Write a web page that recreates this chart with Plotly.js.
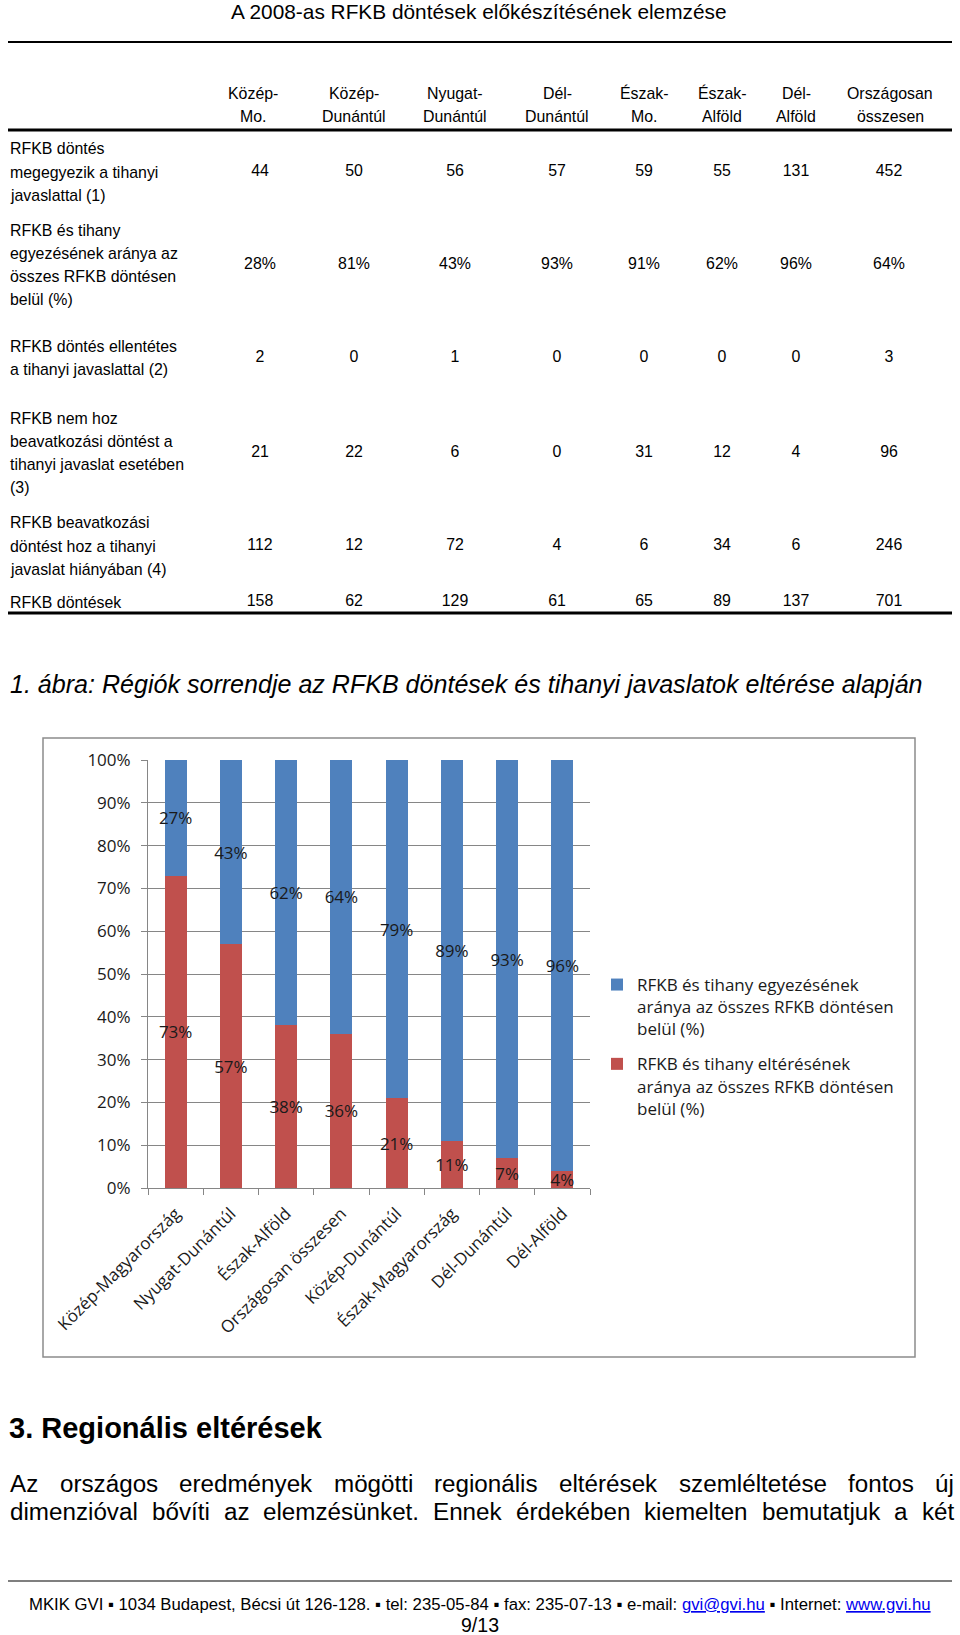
<!DOCTYPE html>
<html><head><meta charset="utf-8">
<script src="https://cdn.plot.ly/plotly-3.0.1.min.js"></script>
<style>html,body{margin:0;padding:0;background:#fff}#chart{width:960px;height:1635px}</style>
</head><body><div id="chart"></div>
<script>
// ---------------- DATA ----------------
const pageHeader = 'A 2008-as RFKB döntések előkészítésének elemzése';
const tableColumns = ['Közép-<br>Mo.', 'Közép-<br>Dunántúl', 'Nyugat-<br>Dunántúl', 'Dél-<br>Dunántúl',
                      'Észak-<br>Mo.', 'Észak-<br>Alföld', 'Dél-<br>Alföld', 'Országosan<br>összesen'];
const rowLabels = [
  'RFKB döntés<br>megegyezik a tihanyi<br>javaslattal (1)',
  'RFKB és tihany<br>egyezésének aránya az<br>összes RFKB döntésen<br>belül (%)',
  'RFKB döntés ellentétes<br>a tihanyi javaslattal (2)',
  'RFKB nem hoz<br>beavatkozási döntést a<br>tihanyi javaslat esetében<br>(3)',
  'RFKB beavatkozási<br>döntést hoz a tihanyi<br>javaslat hiányában (4)',
  'RFKB döntések'
];
const rowMegegyezik   = [44, 50, 56, 57, 59, 55, 131, 452];
const rowEgyezesArany = ['28%', '81%', '43%', '93%', '91%', '62%', '96%', '64%'];
const rowEllentetes   = [2, 0, 1, 0, 0, 0, 0, 3];
const rowNemHoz       = [21, 22, 6, 0, 31, 12, 4, 96];
const rowBeavatkozasi = [112, 12, 72, 4, 6, 34, 6, 246];
const rowDontesek     = [158, 62, 129, 61, 65, 89, 137, 701];

const captionText = '1. ábra: Régiók sorrendje az RFKB döntések és tihanyi javaslatok eltérése alapján';

const chartCategories = ['Közép-Magyarország', 'Nyugat-Dunántúl', 'Észak-Alföld', 'Országosan összesen',
                         'Közép-Dunántúl', 'Észak-Magyarország', 'Dél-Dunántúl', 'Dél-Alföld'];
const agreementPct  = [27, 43, 62, 64, 79, 89, 93, 96];
const differencePct = [73, 57, 38, 36, 21, 11, 7, 4];
const yTickValues = [0, 10, 20, 30, 40, 50, 60, 70, 80, 90, 100];
const legendAgreement  = 'RFKB és tihany egyezésének<br>aránya az összes RFKB döntésen<br>belül (%)';
const legendDifference = 'RFKB és tihany eltérésének<br>aránya az összes RFKB döntésen<br>belül (%)';

const headingText = '3. Regionális eltérések';
const bodyLines = [
  'Az országos eredmények mögötti regionális eltérések szemléltetése fontos új',
  'dimenzióval bővíti az elemzésünket. Ennek érdekében kiemelten bemutatjuk a két'
];
const footerParts = ['MKIK GVI ▪ 1034 Budapest, Bécsi út 126-128. ▪ tel: 235-05-84 ▪ fax: 235-07-13 ▪ e-mail: ',
                     'gvi@gvi.hu', ' ▪ Internet: ', 'www.gvi.hu'];
const pageNumber = '9/13';

// ---------------- LAYOUT HELPERS ----------------
const W = 960, H = 1635;
const px = x => x / W;
const py = y => 1 - y / H;
const ctx = document.createElement('canvas').getContext('2d');
function fontAvailable(name) {
  const s = 'mmmmmmmmmmlliWWQ0123456789abcxyz';
  ctx.font = '72px monospace'; const a = ctx.measureText(s).width;
  ctx.font = '72px "' + name + '", monospace'; const b = ctx.measureText(s).width;
  ctx.font = '72px serif'; const c = ctx.measureText(s).width;
  ctx.font = '72px "' + name + '", serif'; const d = ctx.measureText(s).width;
  return a !== b || c !== d;
}
const narrow = fontAvailable('Liberation Sans Narrow');
const DOC_NAME = narrow ? 'Liberation Sans Narrow' : 'Liberation Sans';
const DOC = '"' + DOC_NAME + '", "Liberation Sans", Arial, sans-serif';
const K = narrow ? 1 : 0.82;
const PT = 1.94 * K;
const CH = '"Open Sans", "Noto Sans", sans-serif';

function measure(text, size, style) {
  ctx.font = (style || '') + ' ' + size + 'px "' + DOC_NAME + '"';
  return ctx.measureText(text).width;
}
function fit(text, width, style) { return 100 * width / measure(text, 100, style); }

const annotations = [];
function ann(text, x, y, size, opts) {
  annotations.push(Object.assign({
    text: text, x: px(x), y: py(y), xref: 'paper', yref: 'paper', showarrow: false,
    xanchor: 'center', yanchor: 'middle', font: {family: DOC, size: size, color: '#000'}
  }, opts || {}));
}

// page header
ann(pageHeader, 479, 11, fit(pageHeader, 497));

// table header
const headX = [253, 354, 455, 557, 644, 722, 796, 890];
const valX  = [260, 354, 455, 557, 644, 722, 796, 889];
const tSize = 10 * PT;
tableColumns.forEach((c, j) => {
  c.split('<br>').forEach((line, k) => ann(line, headX[j], 93 + 23.3 * k, tSize));
});
// row labels (left aligned, each line separately for line spacing)
const rowY = [172, 265, 358, 453, 546, 602];
rowLabels.forEach((lab, i) => {
  const lines = lab.split('<br>');
  lines.forEach((line, k) => ann(line, 8, rowY[i] + 23.3 * (k - (lines.length - 1) / 2), tSize, {xanchor: 'left'}));
});
// table cell values through a text scatter on pixel-space axes
const tableRows = [rowMegegyezik, rowEgyezesArany, rowEllentetes, rowNemHoz, rowBeavatkozasi, rowDontesek];
const cellX = [], cellY = [], cellT = [];
tableRows.forEach((row, i) => row.forEach((v, j) => { cellX.push(valX[j]); cellY.push(rowY[i]); cellT.push(String(v)); }));

// caption
const cs = fit(captionText, 913, 'italic');
ann(captionText, 8, 684, cs, {xanchor: 'left', font: {family: DOC, size: cs, color: '#000', style: 'italic'}});

// heading
const hs = fit(headingText, 313, 'bold');
ann('<b>' + headingText + '</b>', 7, 1428, hs, {xanchor: 'left'});

// justified body text
const bodyWords0 = bodyLines[0].split(' ');
const bs = 100 * 774 / bodyWords0.reduce((a, w) => a + measure(w, 100), 0);
bodyLines.forEach((line, li) => {
  const words = line.split(' ');
  const widths = words.map(w => measure(w, bs));
  const total = widths.reduce((a, b) => a + b, 0);
  const gap = (944 - total) / (words.length - 1);
  let x = 8;
  words.forEach((w, k) => { ann(w, x, 1483 + 28 * li, bs, {xanchor: 'left'}); x += widths[k] + gap; });
});

// footer
const footerPlain = footerParts.join('');
const fs = fit(footerPlain, 902);
const link = t => '<span style="color:#0000ee"><u>' + t + '</u></span>';
ann(footerParts[0] + link(footerParts[1]) + footerParts[2] + link(footerParts[3]), 480, 1604, fs);
ann(pageNumber, 480, 1625, fit(pageNumber, 38));

const line = (x0, y, x1, w, c) => ({type: 'line', xref: 'paper', yref: 'paper', x0: px(x0), x1: px(x1), y0: py(y), y1: py(y), line: {color: c || '#000', width: w}});
const shapes = [
  line(8, 42, 952, 2),
  line(8, 130, 952, 3),
  line(8, 613, 952, 3),
  line(8, 1581, 952, 1.2),
  {type: 'rect', xref: 'paper', yref: 'paper', x0: px(43), x1: px(915), y0: py(1357), y1: py(738),
   line: {color: '#8c8c8c', width: 1.5}, fillcolor: 'rgba(0,0,0,0)', layer: 'below'}
];

const labelFont = {family: CH, size: 17, color: '#1a1a1a'};
const traces = [
  {type: 'bar', name: legendDifference, legendgroup: 'b', legendrank: 2, x: chartCategories, y: differencePct,
   marker: {color: '#C0504D'}, texttemplate: '%{y}%', textposition: 'inside', insidetextanchor: 'middle',
   textangle: 0, constraintext: 'none', insidetextfont: labelFont, textfont: labelFont, hoverinfo: 'skip', cliponaxis: false},
  {type: 'bar', name: legendAgreement, legendgroup: 'a', legendrank: 1, x: chartCategories, y: agreementPct,
   marker: {color: '#4F81BD'}, texttemplate: '%{y}%', textposition: 'inside', insidetextanchor: 'middle',
   textangle: 0, constraintext: 'none', insidetextfont: labelFont, textfont: labelFont, hoverinfo: 'skip', cliponaxis: false},
  {type: 'scatter', mode: 'text', x: cellX, y: cellY, text: cellT, xaxis: 'x2', yaxis: 'y2',
   textposition: 'middle center', textfont: {family: DOC, size: tSize, color: '#000'}, hoverinfo: 'skip', showlegend: false}
];

const layout = {
  width: W, height: H, margin: {l: 0, r: 0, t: 0, b: 0},
  paper_bgcolor: '#fff', plot_bgcolor: 'rgba(0,0,0,0)',
  barmode: 'stack', bargap: 0.6,
  font: {family: CH, color: '#1a1a1a'},
  xaxis: {domain: [px(148), px(590)], type: 'category', categoryorder: 'array', categoryarray: chartCategories,
          tickangle: -45, tickfont: {family: CH, size: 17, color: '#1a1a1a'}, ticklabelstandoff: 8,
          showline: true, linecolor: '#868686', linewidth: 1, ticks: 'outside', tickson: 'boundaries',
          ticklen: 6, tickcolor: '#868686', showgrid: false, fixedrange: true, anchor: 'y'},
  yaxis: {domain: [py(1188), py(760)], range: [0, 100], tickmode: 'array', tickvals: yTickValues,
          ticktext: yTickValues.map(v => v + '%'), tickfont: {family: CH, size: 17, color: '#1a1a1a'},
          ticklabelstandoff: 7,
          showline: true, linecolor: '#868686', linewidth: 1, ticks: 'outside', ticklen: 6, tickcolor: '#868686',
          showgrid: true, gridcolor: '#868686', gridwidth: 1, zeroline: false, fixedrange: true, anchor: 'x'},
  xaxis2: {domain: [0, 1], range: [0, W], visible: false, anchor: 'y2', fixedrange: true},
  yaxis2: {domain: [0, 1], range: [H, 0], visible: false, anchor: 'x2', fixedrange: true},
  showlegend: true,
  legend: {x: px(597), xanchor: 'left', y: py(967), yanchor: 'top', valign: 'top',
           font: {family: CH, size: 17, color: '#1a1a1a'}, bgcolor: 'rgba(0,0,0,0)',
           traceorder: 'grouped', tracegroupgap: 10},
  annotations: annotations, shapes: shapes
};

Plotly.newPlot('chart', traces, layout, {staticPlot: true, displayModeBar: false});
</script>
</body></html>
